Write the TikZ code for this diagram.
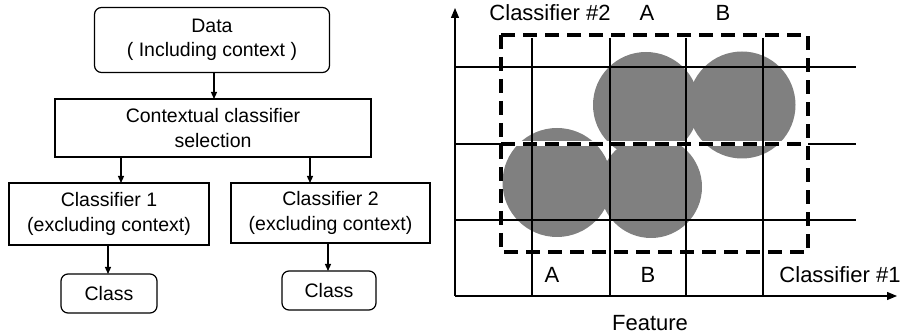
\documentclass[tikz,border=0pt]{standalone}
\usepackage{fontspec}
\setmainfont{Liberation Sans}
\usetikzlibrary{arrows.meta}
\begin{document}
\begin{tikzpicture}[x=1pt,y=-1pt,
  flowbox/.style={draw=black,line width=1.2pt,inner sep=0pt,outer sep=0pt,align=center,
    font=\fontsize{19.5}{24.5}\selectfont},
  roundbox/.style={flowbox,rounded corners=7pt},
  arr/.style={line width=1.2pt,-{Triangle[length=7pt,width=6pt]}},
  axisarr/.style={line width=1.3pt,-{Triangle[length=10pt,width=8pt]}},
  grid/.style={line width=1.3pt},
  dashbox/.style={line width=3.6pt,dash pattern=on 14pt off 8pt},
  lbl/.style={font=\fontsize{22}{26}\selectfont,inner sep=0pt},
  blob/.style={fill=black!50}
]
\useasboundingbox (0,0) rectangle (904,336);

% ---------- left flow chart ----------
\node[roundbox,minimum width=235pt,minimum height=65pt] (data) at (212,40)
  {Data\\( Including context )};
\node[flowbox,minimum width=316pt,minimum height=58pt] (ctx) at (213,128)
  {Contextual classifier\\selection};
\node[flowbox,minimum width=200pt,minimum height=62pt] (c1) at (109,214)
  {Classifier 1\\(excluding context)};
\node[flowbox,minimum width=199pt,minimum height=60pt] (c2) at (330.5,213)
  {Classifier 2\\(excluding context)};
\node[roundbox,minimum width=96pt,minimum height=39pt] (k1) at (109,293.5) {Class};
\node[roundbox,minimum width=94pt,minimum height=39pt] (k2) at (329,290.5) {Class};

\draw[arr] (data.south -| 214,0) -- (ctx.north -| 214,0);
\draw[arr] (ctx.south -| 121,0) -- (c1.north -| 121,0);
\draw[arr] (ctx.south -| 310,0) -- (c2.north -| 310,0);
\draw[arr] (c1.south -| 108,0) -- (k1.north -| 108,0);
\draw[arr] (c2.south -| 328,0) -- (k2.north -| 328,0);

% ---------- right feature space ----------
\coordinate (O) at (455,296);
\coordinate (ytip) at (455,8);
\coordinate (xtip) at (897,296);

% blobs
\fill[blob] (557,182.5) circle (54.5);
\fill[blob] (651,187) circle (51);
\fill[blob] (646,105) circle (53);
\fill[blob] (742,105) circle (53.5);

% white under the middle dashed line
\draw[white,line width=5pt] (501,144) -- (808,144);

% grid
\foreach \gx in {532,610,686,763} \draw[grid] (\gx,38) -- (\gx,296);
\draw[grid] (455,67) -- (856,67);
\draw[grid] (455,220) -- (856,220);
\draw[grid] (455,144) -- (501,144);
\draw[grid] (808,144) -- (856,144);

% dashed regions
\draw[dashbox] (501,35) rectangle (808,252);
\draw[dashbox] (501,144) -- (808,144);

% axes
\draw[axisarr] (O) -- (ytip);
\draw[axisarr] (O) -- (xtip);

% labels
\node[lbl] (c2lbl) at (550,13) {Classifier \#2};
\node[lbl] (ta) at (647,13) {A};
\node[lbl] (tb) at (723,13) {B};
\node[lbl] (ba) at (552,275) {A};
\node[lbl] (bb) at (648,275) {B};
\node[lbl] (c1lbl) at (840,275) {Classifier \#1};
\node[lbl] (feat) at (650,323) {Feature};
\end{tikzpicture}
\end{document}
